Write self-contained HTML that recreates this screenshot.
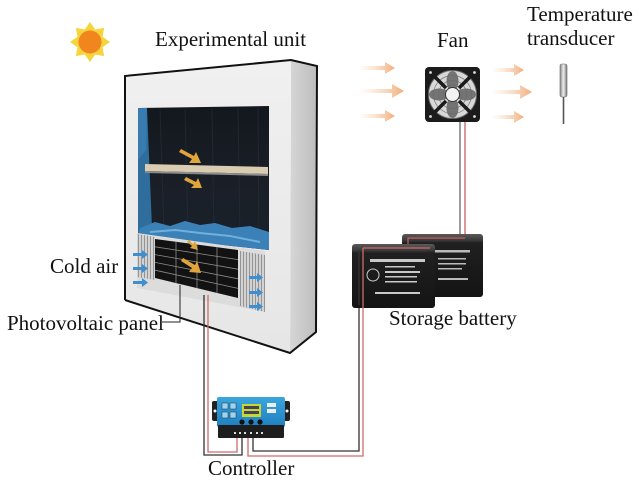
<!DOCTYPE html>
<html><head><meta charset="utf-8"><style>
html,body{margin:0;padding:0;background:#fff;}
svg{display:block;}
text{font-family:"Liberation Serif",serif;font-size:21px;fill:#111;}
</style></head><body>
<svg width="639" height="482" viewBox="0 0 639 482" xmlns="http://www.w3.org/2000/svg">
<defs>
<linearGradient id="side" x1="0" y1="0" x2="1" y2="0"><stop offset="0" stop-color="#d6d6d6"/><stop offset="1" stop-color="#bdbdbd"/></linearGradient>
<linearGradient id="front" x1="0" y1="0" x2="0" y2="1"><stop offset="0" stop-color="#f0f0f0"/><stop offset="1" stop-color="#e6e6e6"/></linearGradient>
<linearGradient id="win" x1="0" y1="0" x2="0" y2="1"><stop offset="0" stop-color="#13171e"/><stop offset="0.5" stop-color="#1a1f27"/><stop offset="1" stop-color="#18202a"/></linearGradient>
<linearGradient id="arr" x1="0" y1="0" x2="1" y2="0"><stop offset="0" stop-color="#f8d2b4" stop-opacity="0.05"/><stop offset="1" stop-color="#f2ad7a"/></linearGradient>
<linearGradient id="probe" x1="0" y1="0" x2="1" y2="0"><stop offset="0" stop-color="#888"/><stop offset="0.5" stop-color="#eee"/><stop offset="1" stop-color="#777"/></linearGradient>
<linearGradient id="bat" x1="0" y1="0" x2="0" y2="1"><stop offset="0" stop-color="#5a5a5a"/><stop offset="0.1" stop-color="#3a3a3a"/><stop offset="0.14" stop-color="#202020"/><stop offset="1" stop-color="#141414"/></linearGradient>
<linearGradient id="ctl" x1="0" y1="0" x2="0" y2="1"><stop offset="0" stop-color="#3aa6de"/><stop offset="1" stop-color="#1f7fbf"/></linearGradient>
<pattern id="vent" width="3" height="4" patternUnits="userSpaceOnUse"><rect width="3" height="4" fill="#d2d2d2"/><rect width="1" height="4" fill="#949494"/></pattern>
</defs>

<!-- Sun -->
<polygon points="90,22 95.2,29.5 104.1,27.9 102.5,36.8 110,42 102.5,47.2 104.1,56.1 95.2,54.5 90,62 84.8,54.5 75.9,56.1 77.5,47.2 70,42 77.5,36.8 75.9,27.9 84.8,29.5" fill="#f6d43c"/>
<circle cx="90" cy="42" r="11.5" fill="#f0861d"/>

<text x="155" y="46">Experimental unit</text>
<text x="437" y="47">Fan</text>
<text x="527" y="21">Temperature</text>
<text x="527" y="45">transducer</text>
<text x="50" y="273">Cold air</text>
<text x="7" y="330">Photovoltaic panel</text>
<text x="389" y="325">Storage battery</text>
<text x="208" y="475">Controller</text>

<!-- Box -->
<polygon points="291,60 317,66 316,332 290,353" fill="url(#side)"/>
<polygon points="125,76 291,60 290,353 125,300" fill="url(#front)"/>
<polyline points="125,300 125,76 291,60 317,66 316,332 290,353 125,300" fill="none" stroke="#111" stroke-width="2"/>

<!-- Window -->
<polygon points="138,108 269,106 269,250 138,236" fill="url(#win)"/>
<g stroke="#2a3440" stroke-width="1" opacity="0.5">
<line x1="160" y1="110" x2="164" y2="230"/><line x1="185" y1="110" x2="188" y2="235"/><line x1="212" y1="109" x2="214" y2="238"/><line x1="238" y1="108" x2="240" y2="242"/><line x1="258" y1="108" x2="259" y2="245"/>
</g>
<polygon points="138,108 147,108 152,228 138,236" fill="#2f6d9c"/>
<polygon points="138,108 147,108 146,150 138,160" fill="#3d86bd" opacity="0.6"/>
<path d="M140,228 L155,222 L170,226 L185,221 L200,225 L215,223 L232,228 L250,226 L269,232 L269,250 L138,236 Z" fill="#3b80b6"/>
<path d="M150,232 L175,230 L200,233 L230,236 L260,242" stroke="#6fb0dc" stroke-width="2" fill="none"/>
<polygon points="145,164 268,167 268,174 145,171" fill="#d9ccb0"/>
<polygon points="145,171 268,174 268,176 145,173" fill="#8c8c8c"/>

<!-- PV frame & vents -->
<polygon points="137,233 265,251 265,312 137,288" fill="#dcdcdc"/>
<polygon points="137,234 155,237 155,280 137,277" fill="url(#vent)"/>
<polygon points="240,251 265,255 265,312 240,306" fill="url(#vent)"/>
<polygon points="155,239 238,250 238,298 155,278" fill="#121212"/>
<g stroke="#8a8a8a" stroke-width="0.8">
<line x1="155" y1="246.8" x2="238" y2="259.6"/><line x1="155" y1="254.6" x2="238" y2="269.2"/><line x1="155" y1="262.4" x2="238" y2="278.8"/><line x1="155" y1="270.2" x2="238" y2="288.4"/>
<line x1="176" y1="241.8" x2="176" y2="283.1"/><line x1="197" y1="244.6" x2="197" y2="288.1"/><line x1="217" y1="247.2" x2="217" y2="292.9"/>
</g>

<!-- yellow flow arrows -->
<g fill="#e0a53b">
<path d="M181,149 L194,156 L196,152 L201,163 L189,163 L192,159 L179,152 Z"/>
<path d="M186,177 L196,182 L198,178 L202,188 L191,188 L194,185 L184,180 Z"/>
<path d="M189,240 L193,244 L195,241 L198,250 L190,248 L192,246 L187,242 Z"/>
<path d="M183,258 L195,265 L197,261 L201,273 L189,272 L192,268 L181,261 Z"/>
</g>

<!-- cold air blue arrows -->
<g fill="#3f8fd0">
<path d="M133,253 L142,253 L142,250 L148,254.5 L142,259 L142,256 L133,256 Z"/>
<path d="M133,267 L142,267 L142,264 L148,268.5 L142,273 L142,270 L133,270 Z"/>
<path d="M133,281 L142,281 L142,278 L148,282.5 L142,287 L142,284 L133,284 Z"/>
<path d="M249,276 L257,276 L257,273 L263,277.5 L257,282 L257,279 L249,279 Z"/>
<path d="M249,291 L257,291 L257,288 L263,292.5 L257,297 L257,294 L249,294 Z"/>
<path d="M249,305 L257,305 L257,302 L263,306.5 L257,311 L257,308 L249,308 Z"/>
</g>

<!-- PV leader -->
<polyline points="162,322 180,322 180,285" fill="none" stroke="#222" stroke-width="1"/>

<!-- Wires -->
<g fill="none" stroke-width="1.3">
<polyline points="204,295 204,455 242,455 242,438" stroke="#333"/>
<polyline points="208,295 208,452 237,452 237,438" stroke="#d06a6a"/>
<polyline points="248,438 248,456 363,456 363,248" stroke="#d06a6a"/>
<polyline points="253,438 253,451 359,451 359,250" stroke="#333"/>
<polyline points="460,120 460,237" stroke="#666"/>
<polyline points="465,120 465,238" stroke="#c86060"/>
</g>

<!-- Fan arrows -->
<g fill="url(#arr)">
<path d="M360,66 L385,66 L385,62 L395,68 L385,74 L385,70 L360,70 Z"/>
<path d="M360,89 L392,89 L392,84 L404,91 L392,98 L392,93 L360,93 Z"/>
<path d="M360,114 L385,114 L385,110 L395,116 L385,122 L385,118 L360,118 Z"/>
<path d="M493,68 L514,68 L514,64 L524,70 L514,76 L514,72 L493,72 Z"/>
<path d="M493,90 L520,90 L520,85 L532,92 L520,99 L520,94 L493,94 Z"/>
<path d="M493,115 L514,115 L514,111 L524,117 L514,123 L514,119 L493,119 Z"/>
</g>

<!-- Fan -->
<rect x="425" y="67" width="55" height="55" rx="4" fill="#1b1b1b"/>
<circle cx="452.5" cy="94.5" r="24" fill="#d8d8d8" stroke="#666" stroke-width="1"/>
<g fill="none" stroke="#777" stroke-width="0.7">
<circle cx="452.5" cy="94.5" r="19"/><circle cx="452.5" cy="94.5" r="14"/><circle cx="452.5" cy="94.5" r="9.5"/>
</g>
<g fill="#6a6a6a" opacity="0.9">
<ellipse cx="452.5" cy="81" rx="6" ry="10"/><ellipse cx="452.5" cy="108" rx="6" ry="10"/>
<ellipse cx="439" cy="94.5" rx="10" ry="6"/><ellipse cx="466" cy="94.5" rx="10" ry="6"/>
</g>
<g stroke="#1b1b1b" stroke-width="3.5">
<line x1="428" y1="70" x2="446" y2="88"/><line x1="477" y1="70" x2="459" y2="88"/><line x1="428" y1="119" x2="446" y2="101"/><line x1="477" y1="119" x2="459" y2="101"/>
</g>
<circle cx="452.5" cy="94.5" r="7" fill="#f4f4f4" stroke="#333" stroke-width="1"/>
<g fill="#ddd"><circle cx="430.5" cy="72.5" r="1.4"/><circle cx="474.5" cy="72.5" r="1.4"/><circle cx="430.5" cy="116.5" r="1.4"/><circle cx="474.5" cy="116.5" r="1.4"/></g>

<!-- Temperature probe -->
<rect x="560" y="64" width="7" height="33" rx="2" fill="url(#probe)" stroke="#666" stroke-width="0.6"/>
<line x1="563.5" y1="97" x2="563.5" y2="124" stroke="#555" stroke-width="1.6"/>

<!-- Batteries -->
<rect x="402" y="234" width="81" height="63" rx="3" fill="url(#bat)"/>
<polyline points="465,238 408,238 408,246" fill="none" stroke="#c86060" stroke-width="1.2"/>
<g fill="#bbb"><rect x="430" y="250" width="40" height="2.5"/><rect x="438" y="258" width="28" height="1.5"/><rect x="438" y="263" width="28" height="1.5"/><rect x="438" y="268" width="24" height="1.5"/><rect x="438" y="278" width="30" height="2"/></g>
<rect x="352" y="244" width="83" height="64" rx="3" fill="url(#bat)"/>
<polyline points="363,248 430,248" fill="none" stroke="#d06a6a" stroke-width="1.3"/>
<line x1="359" y1="250" x2="359" y2="305" stroke="#333" stroke-width="1.3"/>
<line x1="363" y1="248" x2="363" y2="308" stroke="#d06a6a" stroke-width="1.3"/>
<g fill="#c8c8c8"><rect x="370" y="259" width="55" height="3"/><rect x="385" y="266" width="30" height="1.5"/><rect x="385" y="271" width="35" height="2"/><rect x="385" y="276" width="32" height="1.5"/><rect x="385" y="281" width="32" height="1.5"/><rect x="375" y="292" width="45" height="2"/></g>
<circle cx="373" cy="275" r="6" fill="none" stroke="#ccc" stroke-width="1"/>

<!-- Controller -->
<rect x="212" y="401" width="78" height="20" rx="2" fill="#222"/>
<circle cx="215" cy="411" r="1.5" fill="#fff"/><circle cx="287" cy="411" r="1.5" fill="#fff"/>
<rect x="217" y="397" width="68" height="30" rx="2" fill="url(#ctl)"/>
<rect x="218" y="425" width="66" height="13" rx="1" fill="#1e1e1e"/>
<rect x="242" y="404" width="19" height="13" fill="#c8d634"/>
<g fill="#445"><rect x="244" y="406" width="15" height="3"/><rect x="244" y="411" width="15" height="3"/></g>
<rect x="222" y="403" width="6" height="6" fill="#9fd3ee" stroke="#134" stroke-width="0.5"/>
<rect x="230" y="403" width="6" height="6" fill="#9fd3ee" stroke="#134" stroke-width="0.5"/>
<rect x="222" y="412" width="6" height="6" fill="#9fd3ee" stroke="#134" stroke-width="0.5"/>
<rect x="230" y="412" width="6" height="6" fill="#9fd3ee" stroke="#134" stroke-width="0.5"/>
<rect x="267" y="403" width="9" height="4" fill="#eee"/><rect x="267" y="409" width="9" height="4" fill="#eee"/>
<g fill="#111"><circle cx="242" cy="422" r="2.6"/><circle cx="251" cy="422" r="2.6"/><circle cx="260" cy="422" r="2.6"/></g>
<g fill="#ddd"><rect x="234" y="432" width="2" height="2"/><rect x="239" y="432" width="2" height="2"/><rect x="244" y="432" width="2" height="2"/><rect x="250" y="432" width="2" height="2"/><rect x="256" y="432" width="2" height="2"/><rect x="261" y="432" width="2" height="2"/></g>
</svg>
</body></html>
